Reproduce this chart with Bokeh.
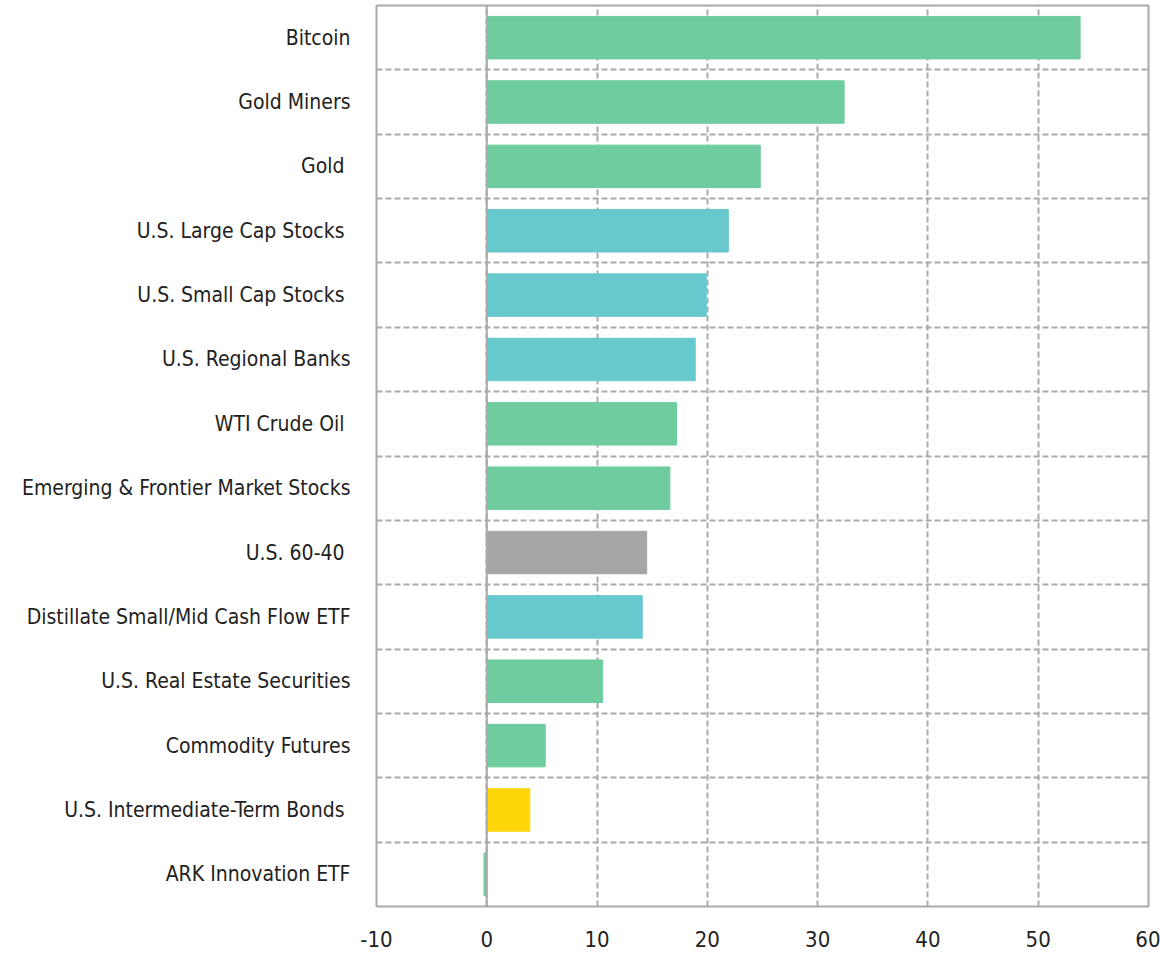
from bokeh.plotting import figure
from bokeh.models import ColumnDataSource, FixedTicker, Span
from bokeh.embed import file_html
from bokeh.resources import INLINE

categories = [
    "Bitcoin", "Gold Miners", "Gold ", "U.S. Large Cap Stocks ", "U.S. Small Cap Stocks ",
    "U.S. Regional Banks", "WTI Crude Oil ", "Emerging & Frontier Market Stocks", "U.S. 60-40 ",
    "Distillate Small/Mid Cash Flow ETF", "U.S. Real Estate Securities", "Commodity Futures",
    "U.S. Intermediate-Term Bonds ", "ARK Innovation ETF",
]
values = [53.8, 32.4, 24.8, 21.9, 19.9, 18.9, 17.2, 16.6, 14.5, 14.1, 10.5, 5.3, 3.9, -0.25]
groups = ["alt", "alt", "alt", "equity", "equity", "equity", "alt", "alt", "blend",
          "equity", "alt", "alt", "bond", "alt"]
group_colors = {"alt": "#6FCC9F", "equity": "#67C8CE", "blend": "#A6A6A6", "bond": "#FFD60A"}
x_ticks = [-10, 0, 10, 20, 30, 40, 50, 60]
x_tick_labels = ["-10", "0", "10", "20", "30", "40", "50", "60"]

n = len(categories)
ypos = [n - i - 0.5 for i in range(n)]
colors = [group_colors[g] for g in groups]
src = ColumnDataSource(dict(y=ypos, v=values, c=colors, name=categories))

FONT = "'DejaVu Sans Condensed', sans-serif"

p = figure(width=1160, height=954, output_backend="svg", toolbar_location=None,
           x_range=(-10, 60), y_range=(0, n),
           min_border_left=376, min_border_right=12, min_border_top=5, min_border_bottom=48)

p.hbar(y="y", right="v", left=0, height=0.66, color="c", source=src)
p.add_layout(Span(location=0, dimension="height", line_color="#AAAAAA", line_width=2))

p.outline_line_color = "#AAAAAA"
p.outline_line_width = 2

p.xaxis.ticker = FixedTicker(ticks=x_ticks)
p.xaxis.major_label_overrides = {t: s for t, s in zip(x_ticks, x_tick_labels)}
p.xaxis.axis_line_color = None
p.xaxis.major_tick_line_color = None
p.xaxis.minor_tick_line_color = None
p.xaxis.major_label_text_font = FONT
p.xaxis.major_label_text_font_size = "22px"
p.xaxis.major_label_text_color = "#222222"
p.xaxis.major_label_standoff = 18

p.yaxis.ticker = FixedTicker(ticks=ypos)
p.yaxis.major_label_overrides = {y: c for y, c in zip(ypos, categories)}
p.yaxis.axis_line_color = None
p.yaxis.major_tick_line_color = None
p.yaxis.minor_tick_line_color = None
p.yaxis.major_label_text_font = FONT
p.yaxis.major_label_text_font_size = "21px"
p.yaxis.major_label_text_color = "#222222"
p.yaxis.major_label_standoff = 20

p.xgrid.ticker = FixedTicker(ticks=x_ticks[1:-1])
p.xgrid.grid_line_color = "#AAAAAA"
p.xgrid.grid_line_width = 2
p.xgrid.grid_line_dash = "6 3"
p.ygrid.ticker = FixedTicker(ticks=list(range(1, n)))
p.ygrid.grid_line_color = "#AAAAAA"
p.ygrid.grid_line_width = 2
p.ygrid.grid_line_dash = "6 3"

open("out.html", "w").write(file_html(p, INLINE))
